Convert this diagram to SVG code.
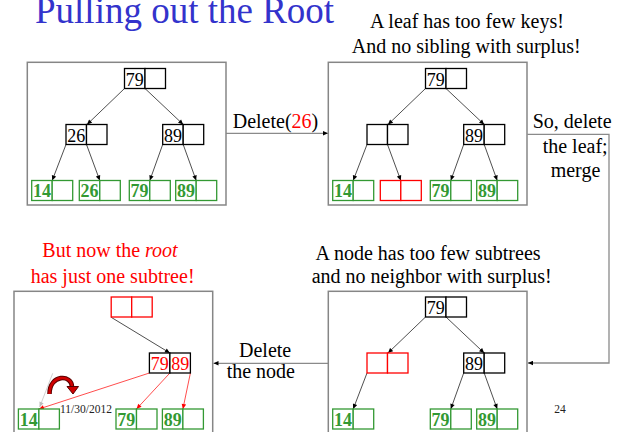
<svg xmlns="http://www.w3.org/2000/svg" width="625" height="432" viewBox="0 0 625 432" font-family="'Liberation Serif', 'Times New Roman', serif">
  <style>
    text, tspan { font-family: "Liberation Serif", "Times New Roman", serif; }
    .title { font-size: 37px; fill: #3333cc; }
    .note { font-size: 20px; fill: #000; }
    .warn { font-size: 20px; fill: #ff0000; }
    .small { font-size: 11.5px; fill: #222; }
    .panel { fill: #fff; stroke: #868686; stroke-width: 1.5; }
    .node rect { fill: #fff; stroke: #000; stroke-width: 1.3; }
    .node.red rect { stroke: #ff0000; }
    .leaf rect { fill: #fff; stroke: #339933; stroke-width: 1.3; }
    .leaf.red rect { stroke: #ff0000; }
    .key { font-size: 18px; text-anchor: middle; fill: #000; }
    .leaf .key { fill: #339933; font-weight: bold; }
    .node .key.rk { fill: #ff0000; }
    .edge { fill: none; stroke: #222; stroke-width: 0.8; marker-end: url(#ah); }
    .edge.r { stroke: #ff2020; marker-end: url(#ahr); }
    .edge.g { stroke: #c4c4c4; marker-end: url(#ahg); }
    .flow { fill: none; stroke: #8a8a8a; stroke-width: 1.3; marker-end: url(#ah); }
  </style>
  <defs>
    <marker id="ah" viewBox="0 0 10 10" refX="10" refY="5" markerWidth="6" markerHeight="5" orient="auto" markerUnits="userSpaceOnUse">
      <path d="M0,0.5 L10,5 L0,9.5z" fill="#000"/>
    </marker>
    <marker id="ahr" viewBox="0 0 10 10" refX="10" refY="5" markerWidth="6" markerHeight="5" orient="auto" markerUnits="userSpaceOnUse">
      <path d="M0,0.5 L10,5 L0,9.5z" fill="#ff0000"/>
    </marker>
    <marker id="ahg" viewBox="0 0 10 10" refX="10" refY="5" markerWidth="6" markerHeight="5" orient="auto" markerUnits="userSpaceOnUse">
      <path d="M0,0.5 L10,5 L0,9.5z" fill="#bdbdbd"/>
    </marker>
  </defs>

  <rect width="625" height="432" fill="#fff"/>

  <!-- headings -->
  <text class="title" x="35" y="23">Pulling out the Root</text>
  <text class="note" x="370" y="28.3">A leaf has too few keys!</text>
  <text class="note" x="351.7" y="53.3">And no sibling with surplus!</text>
  <text class="warn" x="42.3" y="257.3">But now the <tspan font-style="italic">root</tspan></text>
  <text class="warn" x="30.7" y="282.7">has just one subtree!</text>
  <text class="note" x="315.6" y="260">A node has too few subtrees</text>
  <text class="note" x="311.7" y="283.3">and no neighbor with surplus!</text>

  <!-- connectors between the stages -->
  <g id="connectors">
    <line class="flow" x1="226" y1="133.3" x2="328" y2="133.3"/>
    <polyline class="flow" points="527.3,134.3 609,134.3 609,363 528,363"/>
    <line class="flow" x1="328.3" y1="363.3" x2="213.5" y2="363.3"/>
    <text class="note" x="232.7" y="128.3">Delete(<tspan fill="#ff0000">26</tspan>)</text>
    <text class="note" x="532.7" y="128.3">So, delete</text>
    <text class="note" x="542.7" y="153.3">the leaf;</text>
    <text class="note" x="550.7" y="176.7">merge</text>
    <text class="note" x="239" y="356.7">Delete</text>
    <text class="note" x="226.7" y="378.3">the node</text>
  </g>

  <!-- stage 1: the starting tree -->
  <g id="stage1">
    <rect class="panel" x="27.3" y="62.3" width="198.7" height="142.7"/>
    <g id="s1-edges">
      <line class="edge" x1="124.5" y1="88.5" x2="87" y2="124.5"/>
      <line class="edge" x1="145" y1="88.5" x2="183.2" y2="124.5"/>
      <line class="edge" x1="66" y1="144.5" x2="52.2" y2="180.5"/>
      <line class="edge" x1="86.5" y1="144.5" x2="99.8" y2="180.5"/>
      <line class="edge" x1="162.7" y1="144.5" x2="149.8" y2="180.5"/>
      <line class="edge" x1="183.2" y1="144.5" x2="196.2" y2="180.5"/>
    </g>
    <g id="s1-root" class="node"><rect x="124.5" y="68.5" width="20.5" height="20"/><rect x="145" y="68.5" width="20.5" height="20"/><text class="key" x="134.7" y="85.5">79</text></g>
    <g id="s1-left" class="node"><rect x="66" y="124.5" width="20.5" height="20"/><rect x="86.5" y="124.5" width="20.5" height="20"/><text class="key" x="76.3" y="141.5">26</text></g>
    <g id="s1-right" class="node"><rect x="162.7" y="124.5" width="20.5" height="20"/><rect x="183.2" y="124.5" width="20.5" height="20"/><text class="key" x="173" y="141.5">89</text></g>
    <g id="s1-leaf14" class="leaf"><rect x="31.7" y="180.5" width="20.5" height="20"/><rect x="52.2" y="180.5" width="20.5" height="20"/><text class="key" x="42" y="197">14</text></g>
    <g id="s1-leaf26" class="leaf"><rect x="79.3" y="180.5" width="20.5" height="20"/><rect x="99.8" y="180.5" width="20.5" height="20"/><text class="key" x="89.6" y="197">26</text></g>
    <g id="s1-leaf79" class="leaf"><rect x="129.3" y="180.5" width="20.5" height="20"/><rect x="149.8" y="180.5" width="20.5" height="20"/><text class="key" x="139.6" y="197">79</text></g>
    <g id="s1-leaf89" class="leaf"><rect x="175.7" y="180.5" width="20.5" height="20"/><rect x="196.2" y="180.5" width="20.5" height="20"/><text class="key" x="186" y="197">89</text></g>
  </g>

  <!-- stage 2: the leaf is emptied -->
  <g id="stage2" transform="translate(301,0)">
    <rect class="panel" x="27.3" y="62.3" width="198.7" height="142.7"/>
    <g id="s2-edges">
      <line class="edge" x1="124.5" y1="88.5" x2="87" y2="124.5"/>
      <line class="edge" x1="145" y1="88.5" x2="183.2" y2="124.5"/>
      <line class="edge" x1="66" y1="144.5" x2="52.2" y2="180.5"/>
      <line class="edge" x1="86.5" y1="144.5" x2="99.8" y2="180.5"/>
      <line class="edge" x1="162.7" y1="144.5" x2="149.8" y2="180.5"/>
      <line class="edge" x1="183.2" y1="144.5" x2="196.2" y2="180.5"/>
    </g>
    <g id="s2-root" class="node"><rect x="124.5" y="68.5" width="20.5" height="20"/><rect x="145" y="68.5" width="20.5" height="20"/><text class="key" x="134.7" y="85.5">79</text></g>
    <g id="s2-left" class="node"><rect x="66" y="124.5" width="20.5" height="20"/><rect x="86.5" y="124.5" width="20.5" height="20"/></g>
    <g id="s2-right" class="node"><rect x="162.7" y="124.5" width="20.5" height="20"/><rect x="183.2" y="124.5" width="20.5" height="20"/><text class="key" x="173" y="141.5">89</text></g>
    <g id="s2-leaf14" class="leaf"><rect x="31.7" y="180.5" width="20.5" height="20"/><rect x="52.2" y="180.5" width="20.5" height="20"/><text class="key" x="42" y="197">14</text></g>
    <g id="s2-leafempty" class="leaf red"><rect x="79.3" y="180.5" width="20.5" height="20"/><rect x="99.8" y="180.5" width="20.5" height="20"/></g>
    <g id="s2-leaf79" class="leaf"><rect x="129.3" y="180.5" width="20.5" height="20"/><rect x="149.8" y="180.5" width="20.5" height="20"/><text class="key" x="139.6" y="197">79</text></g>
    <g id="s2-leaf89" class="leaf"><rect x="175.7" y="180.5" width="20.5" height="20"/><rect x="196.2" y="180.5" width="20.5" height="20"/><text class="key" x="186" y="197">89</text></g>
  </g>

  <!-- stage 3: the leaf is gone, its parent underflows -->
  <g id="stage3" transform="translate(301,228.5)">
    <rect class="panel" x="27.3" y="62.8" width="198.7" height="150"/>
    <g id="s3-edges">
      <line class="edge" x1="124.5" y1="88.5" x2="87" y2="124.5"/>
      <line class="edge" x1="145" y1="88.5" x2="183.2" y2="124.5"/>
      <line class="edge" x1="66" y1="144.5" x2="52.2" y2="180.5"/>
      <line class="edge" x1="162.7" y1="144.5" x2="149.8" y2="180.5"/>
      <line class="edge" x1="183.2" y1="144.5" x2="196.2" y2="180.5"/>
    </g>
    <g id="s3-root" class="node"><rect x="124.5" y="68.5" width="20.5" height="20"/><rect x="145" y="68.5" width="20.5" height="20"/><text class="key" x="134.7" y="85.5">79</text></g>
    <g id="s3-left" class="node red"><rect x="66" y="124.5" width="20.5" height="20"/><rect x="86.5" y="124.5" width="20.5" height="20"/></g>
    <g id="s3-right" class="node"><rect x="162.7" y="124.5" width="20.5" height="20"/><rect x="183.2" y="124.5" width="20.5" height="20"/><text class="key" x="173" y="141.5">89</text></g>
    <g id="s3-leaf14" class="leaf"><rect x="31.7" y="180.5" width="20.5" height="20"/><rect x="52.2" y="180.5" width="20.5" height="20"/><text class="key" x="42" y="197">14</text></g>
    <g id="s3-leaf79" class="leaf"><rect x="129.3" y="180.5" width="20.5" height="20"/><rect x="149.8" y="180.5" width="20.5" height="20"/><text class="key" x="139.6" y="197">79</text></g>
    <g id="s3-leaf89" class="leaf"><rect x="175.7" y="180.5" width="20.5" height="20"/><rect x="196.2" y="180.5" width="20.5" height="20"/><text class="key" x="186" y="197">89</text></g>
  </g>

  <!-- stage 4: nodes merged, root left with one child -->
  <g id="stage4" transform="translate(-13.3,228.5)">
    <rect class="panel" x="27.3" y="62.8" width="198.7" height="150"/>
    <g id="s4-edges">
      <line class="edge g" x1="66" y1="144.8" x2="53" y2="178.5"/>
      <line class="edge" x1="124.5" y1="88.8" x2="183.2" y2="124.5"/>
      <line class="edge r" x1="162.7" y1="144.5" x2="52.2" y2="180.5"/>
      <line class="edge r" x1="183.2" y1="144.5" x2="149.8" y2="180.5"/>
      <line class="edge r" x1="203.7" y1="144.5" x2="196.2" y2="180.5"/>
    </g>
    <g id="s4-root" class="node red"><rect x="124.5" y="68.5" width="20.5" height="20"/><rect x="145" y="68.5" width="20.5" height="20"/></g>
    <g id="s4-merged" class="node"><rect x="162.7" y="124.5" width="20.5" height="20"/><rect x="183.2" y="124.5" width="20.5" height="20"/><text class="key rk" x="173" y="141.5">79</text><text class="key rk" x="193.5" y="141.5">89</text></g>
    <g id="s4-leaf14" class="leaf"><rect x="31.7" y="180.5" width="20.5" height="20"/><rect x="52.2" y="180.5" width="20.5" height="20"/><text class="key" x="42" y="197">14</text></g>
    <g id="s4-leaf79" class="leaf"><rect x="129.3" y="180.5" width="20.5" height="20"/><rect x="149.8" y="180.5" width="20.5" height="20"/><text class="key" x="139.6" y="197">79</text></g>
    <g id="s4-leaf89" class="leaf"><rect x="175.7" y="180.5" width="20.5" height="20"/><rect x="196.2" y="180.5" width="20.5" height="20"/><text class="key" x="186" y="197">89</text></g>
  </g>

  <!-- curved rotation arrow -->
  <g id="rotate-arrow">
    <path d="M49.5,394 C49.5,374 72,374 72,387" fill="none" stroke="#5a0000" stroke-width="4.6"/>
    <path d="M49.5,394 C49.5,374 72,374 72,387" fill="none" stroke="#d00000" stroke-width="2.6"/>
    <path d="M67,386.5 L78.5,386.5 L73,394 Z" fill="#d00000" stroke="#5a0000" stroke-width="1"/>
  </g>

  <!-- footer -->
  <text class="small" x="60" y="412.5">11/30/2012</text>
  <text class="small" x="554.3" y="412.7">24</text>
</svg>
